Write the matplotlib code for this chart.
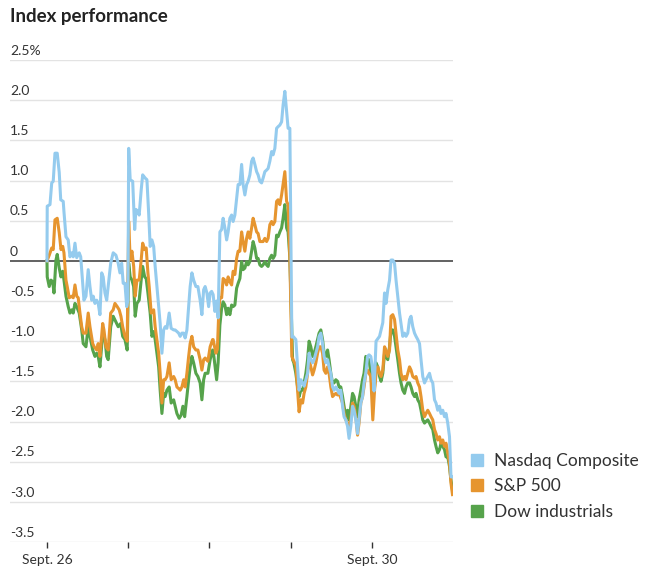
import matplotlib
matplotlib.use("Agg")
import matplotlib.pyplot as plt
from matplotlib.lines import Line2D

plt.rcParams['font.family'] = ['Lato', 'DejaVu Sans']

# trading hours since the Sept. 26 open (6.5 h per session), index change in %
nasdaq_t = [0, 0.02, 0.24, 0.38, 0.50, 0.64, 0.82, 0.98, 1.10, 1.30, 1.36, 1.52, 1.70, 1.84, 1.98,
            2.10, 2.24, 2.38, 2.58, 2.70, 2.86, 2.96, 3.12, 3.30, 3.44, 3.58, 3.70, 3.84, 3.98, 4.10,
            4.24, 4.38, 4.50, 4.64, 4.78, 4.90, 5.10, 5.30, 5.52, 5.70, 5.84, 5.98, 6.10, 6.24, 6.38,
            6.48, 6.54, 6.66, 6.86, 7.02, 7.12, 7.28, 7.38, 7.54, 7.66, 7.86, 8.00, 8.14, 8.26, 8.40,
            8.54, 8.66, 8.80, 8.94, 9.06, 9.20, 9.34, 9.46, 9.60, 9.78, 9.94, 10.14, 10.26, 10.40,
            10.54, 10.66, 10.80, 10.94, 11.06, 11.20, 11.34, 11.46, 11.60, 11.74, 11.92, 12.08,
            12.26, 12.40, 12.54, 12.66, 12.80, 12.94, 13.06, 13.18, 13.30, 13.44, 13.58, 13.70,
            13.84, 13.98, 14.10, 14.24, 14.38, 14.50, 14.64, 14.78, 14.90, 15.04, 15.18, 15.30,
            15.44, 15.58, 15.70, 15.84, 15.98, 16.10, 16.24, 16.38, 16.50, 16.64, 16.78, 16.90,
            17.04, 17.18, 17.30, 17.44, 17.58, 17.70, 17.84, 17.98, 18.10, 18.24, 18.38, 18.50,
            18.64, 18.78, 18.90, 19.04, 19.18, 19.30, 19.44, 19.60, 19.70, 19.92, 20.06, 20.18,
            20.32, 20.46, 20.58, 20.72, 20.86, 20.98, 21.12, 21.26, 21.38, 21.52, 21.66, 21.78,
            21.92, 22.06, 22.18, 22.32, 22.46, 22.58, 22.72, 22.86, 22.98, 23.12, 23.26, 23.38,
            23.52, 23.66, 23.78, 23.92, 24.06, 24.18, 24.32, 24.46, 24.58, 24.72, 24.86, 24.98,
            25.12, 25.26, 25.38, 25.52, 25.66, 25.78, 25.92, 26.04, 26.10, 26.18, 26.34, 26.62,
            26.88, 27.02, 27.14, 27.28, 27.42, 27.54, 27.68, 27.82, 27.94, 28.08, 28.22, 28.34,
            28.48, 28.62, 28.74, 28.88, 29.02, 29.14, 29.28, 29.42, 29.54, 29.68, 29.82, 29.94,
            30.08, 30.22, 30.34, 30.48, 30.62, 30.74, 30.88, 31.02, 31.14, 31.28, 31.42, 31.54,
            31.68, 31.82, 31.94, 32.08, 32.22, 32.34, 32.46]
nasdaq = [0.00, 0.68, 0.70, 0.97, 0.99, 1.34, 1.34, 1.10, 0.76, 0.74, 0.61, 0.30, 0.26, 0.05, 0.10,
          0.05, 0.22, 0.04, 0.10, 0.05, -0.28, -0.49, -0.44, -0.11, -0.32, -0.49, -0.44, -0.53, -0.49, -0.53,
          -0.67, -0.15, -0.20, -0.40, -0.49, -0.32, -0.03, 0.10, 0.07, -0.03, -0.15, -0.03, -0.28, -0.28, -0.57,
          -0.49, 1.40, 1.01, 0.99, 0.39, 0.64, 0.61, 0.57, 0.88, 1.07, 1.03, 1.01, 0.59, 0.18, 0.26,
          0.18, -0.07, -0.32, -0.57, -0.78, -1.15, -0.86, -0.82, -0.84, -0.65, -0.84, -0.86, -0.86, -0.88,
          -0.90, -0.94, -0.90, -0.90, -0.96, -0.86, -0.57, -0.32, -0.15, -0.24, -0.32, -0.32,
          -0.49, -0.67, -0.36, -0.32, -0.40, -0.57, -0.40, -0.38, -0.42, -0.63, -0.50, -0.71,
          0.36, 0.39, 0.53, 0.41, 0.26, 0.36, 0.53, 0.57, 0.49, 0.57, 0.78, 0.95,
          0.95, 1.20, 0.95, 0.82, 0.95, 0.99, 1.07, 1.24, 1.28, 1.20, 1.11, 1.07,
          0.99, 0.97, 1.03, 1.11, 1.13, 1.15, 1.24, 1.36, 1.32, 1.40, 1.65, 1.67,
          1.69, 1.73, 1.94, 2.11, 1.86, 1.65, 1.65, -0.95, -0.94, -0.98, -1.32, -1.61,
          -1.48, -1.52, -1.56, -1.48, -1.40, -1.15, -1.23, -1.27, -1.23, -1.15, -1.07, -0.94,
          -0.90, -1.03, -1.19, -1.27, -1.23, -1.32, -1.40, -1.57, -1.61, -1.57, -1.61, -1.65,
          -1.61, -1.81, -1.94, -1.98, -2.06, -2.21, -2.06, -1.81, -1.86, -1.98, -2.15, -1.98,
          -1.77, -1.69, -1.52, -1.40, -1.19, -1.17, -1.19, -1.32, -1.45, -1.62, -1.00, -0.94,
          -0.77, -0.40, -0.53, -0.36, -0.24, 0.01, 0.01, -0.03, -0.24, -0.44, -0.65, -0.78,
          -0.94, -0.90, -0.94, -0.90, -0.73, -0.69, -0.82, -0.90, -0.94, -0.98, -1.03, -1.23,
          -1.44, -1.52, -1.48, -1.44, -1.40, -1.48, -1.52, -1.73, -1.77, -1.86, -1.81, -1.90,
          -1.86, -1.94, -1.90, -2.02, -2.19, -2.69, -2.69]

sp500_t = [0, 0.18, 0.38, 0.50, 0.64, 0.82, 0.98, 1.12, 1.26, 1.36, 1.52, 1.62, 1.78, 1.98, 2.10,
           2.24, 2.38, 2.50, 2.64, 2.78, 2.90, 3.12, 3.30, 3.44, 3.66, 3.78, 3.98, 4.10, 4.24, 4.46,
           4.56, 4.72, 4.90, 5.10, 5.30, 5.44, 5.62, 5.78, 5.92, 6.06, 6.24, 6.42, 6.54, 6.66, 6.80,
           6.94, 7.06, 7.20, 7.38, 7.54, 7.66, 7.82, 7.94, 8.08, 8.18, 8.34, 8.54, 8.66, 8.80, 8.94,
           9.06, 9.20, 9.34, 9.46, 9.60, 9.78, 9.94, 10.14, 10.26, 10.40, 10.54, 10.66, 10.80,
           10.94, 11.06, 11.20, 11.34, 11.46, 11.60, 11.74, 11.92, 12.08, 12.26, 12.40, 12.54,
           12.66, 12.88, 13.06, 13.26, 13.30, 13.52, 13.64, 13.76, 13.84, 13.98, 14.10, 14.24,
           14.38, 14.50, 14.64, 14.78, 14.90, 15.04, 15.18, 15.30, 15.44, 15.58, 15.70, 15.84,
           15.98, 16.10, 16.24, 16.38, 16.50, 16.64, 16.78, 16.90, 17.04, 17.30, 17.44, 17.58,
           17.70, 17.84, 17.98, 18.10, 18.24, 18.38, 18.50, 18.64, 18.78, 18.90, 19.04, 19.18,
           19.30, 19.44, 19.60, 19.70, 19.92, 20.06, 20.18, 20.32, 20.46, 20.58, 20.72, 20.86,
           20.98, 21.12, 21.26, 21.38, 21.52, 21.66, 21.78, 21.92, 22.06, 22.18, 22.32, 22.46,
           22.58, 22.72, 22.86, 22.98, 23.12, 23.26, 23.38, 23.66, 23.78, 23.92, 24.06, 24.18,
           24.32, 24.46, 24.58, 24.72, 24.86, 24.98, 25.12, 25.26, 25.38, 25.52, 25.66, 25.78,
           25.92, 26.08, 26.22, 26.34, 26.48, 26.62, 26.74, 26.88, 27.02, 27.14, 27.28, 27.42,
           27.54, 27.68, 27.82, 27.94, 28.08, 28.22, 28.34, 28.48, 28.62, 28.74, 28.88, 29.02,
           29.14, 29.28, 29.42, 29.54, 29.68, 29.82, 29.94, 30.08, 30.22, 30.34, 30.48, 30.62,
           30.74, 30.88, 31.02, 31.14, 31.28, 31.42, 31.54, 31.68, 31.82, 31.94, 32.08, 32.22,
           32.34, 32.46]
sp500 = [0.00, 0.07, 0.16, 0.14, 0.51, 0.53, 0.35, 0.14, 0.18, 0.10, -0.24, -0.32, -0.46, -0.44, -0.46,
         -0.30, -0.44, -0.46, -0.65, -0.82, -0.90, -0.90, -0.65, -0.82, -1.03, -1.07, -1.11, -1.03, -1.19, -0.78,
         -0.86, -1.07, -1.11, -0.65, -0.61, -0.53, -0.57, -0.61, -0.69, -0.82, -0.94, -1.00, 0.49, 0.01, 0.12,
         -0.07, -0.44, -0.24, -0.24, 0.01, 0.22, 0.14, 0.16, -0.15, -0.32, -0.65, -0.61, -0.82, -0.98, -1.15,
         -1.40, -1.77, -1.48, -1.48, -1.44, -1.27, -1.48, -1.44, -1.48, -1.57, -1.59, -1.61, -1.57,
         -1.48, -1.57, -1.40, -1.19, -1.03, -0.94, -1.07, -1.11, -1.11, -1.23, -1.36, -1.23,
         -1.21, -1.25, -1.07, -0.98, -0.98, -1.15, -1.10, -0.60, -0.46, -0.46, -0.22, -0.24,
         -0.30, -0.20, -0.26, -0.30, -0.13, -0.17, 0.03, 0.12, 0.12, 0.36, 0.24, 0.12,
         0.28, 0.36, 0.28, 0.41, 0.53, 0.45, 0.36, 0.34, 0.24, 0.24, 0.28, 0.24,
         0.28, 0.45, 0.49, 0.45, 0.49, 0.74, 0.76, 0.70, 0.82, 0.95, 1.11, 0.74,
         0.70, 0.04, -1.19, -1.23, -1.30, -1.61, -1.88, -1.73, -1.77, -1.65, -1.57, -1.40,
         -1.23, -1.32, -1.42, -1.36, -1.27, -1.15, -1.07, -1.07, -1.15, -1.36, -1.40, -1.32,
         -1.40, -1.57, -1.69, -1.67, -1.65, -1.67, -1.65, -1.77, -1.90, -1.98, -2.02, -2.06,
         -1.98, -1.77, -1.81, -1.94, -2.17, -2.02, -1.77, -1.69, -1.57, -1.40, -1.36, -1.40,
         -1.44, -1.98, -1.61, -1.40, -1.32, -1.40, -1.44, -1.36, -1.07, -1.11, -1.19, -1.11,
         -0.69, -0.67, -0.73, -0.90, -1.11, -1.23, -1.40, -1.48, -1.44, -1.48, -1.40, -1.32,
         -1.36, -1.44, -1.46, -1.44, -1.52, -1.57, -1.69, -1.86, -1.94, -1.90, -1.86, -1.90,
         -1.94, -1.98, -2.10, -2.15, -2.23, -2.19, -2.27, -2.23, -2.31, -2.27, -2.39, -2.52,
         -2.77, -2.91]

dow_t = [0, 0.02, 0.18, 0.32, 0.46, 0.56, 0.72, 0.82, 0.98, 1.12, 1.26, 1.36, 1.52, 1.70, 1.84,
         1.98, 2.10, 2.24, 2.38, 2.58, 2.78, 2.90, 3.12, 3.30, 3.44, 3.66, 3.84, 3.98, 4.10, 4.24,
         4.46, 4.64, 4.78, 4.90, 5.10, 5.30, 5.52, 5.70, 5.90, 6.06, 6.24, 6.42, 6.54, 6.66, 6.80,
         6.94, 7.06, 7.20, 7.38, 7.54, 7.66, 7.82, 7.94, 8.08, 8.26, 8.40, 8.54, 8.66, 8.80, 8.94,
         9.06, 9.20, 9.34, 9.46, 9.60, 9.78, 9.94, 10.14, 10.26, 10.40, 10.58, 10.74, 10.88,
         11.02, 11.20, 11.34, 11.46, 11.60, 11.74, 11.92, 12.08, 12.26, 12.40, 12.54, 12.66,
         12.88, 13.06, 13.26, 13.36, 13.58, 13.70, 13.84, 13.98, 14.10, 14.24, 14.38, 14.50,
         14.64, 14.78, 14.90, 15.04, 15.18, 15.30, 15.44, 15.58, 15.70, 15.84, 15.98, 16.10,
         16.24, 16.38, 16.50, 16.64, 16.78, 16.90, 17.04, 17.18, 17.30, 17.44, 17.58, 17.70,
         17.84, 17.98, 18.10, 18.24, 18.38, 18.50, 18.64, 18.78, 18.90, 19.04, 19.18, 19.30,
         19.44, 19.66, 19.76, 19.92, 20.06, 20.18, 20.32, 20.46, 20.58, 20.72, 20.86, 20.98,
         21.12, 21.26, 21.38, 21.52, 21.66, 21.78, 21.92, 22.06, 22.18, 22.32, 22.46, 22.58,
         22.72, 22.86, 22.98, 23.12, 23.26, 23.38, 23.52, 23.66, 23.78, 23.92, 24.06, 24.18,
         24.32, 24.46, 24.58, 24.72, 24.86, 24.98, 25.12, 25.26, 25.38, 25.52, 25.66, 25.78,
         25.92, 26.08, 26.22, 26.34, 26.48, 26.62, 26.74, 26.88, 27.02, 27.14, 27.28, 27.42,
         27.54, 27.68, 27.82, 27.94, 28.08, 28.22, 28.34, 28.48, 28.62, 28.74, 28.88, 29.02,
         29.14, 29.28, 29.42, 29.54, 29.68, 29.82, 29.94, 30.08, 30.22, 30.34, 30.48, 30.62,
         30.74, 30.88, 31.02, 31.14, 31.28, 31.42, 31.54, 31.68, 31.82, 31.94, 32.08, 32.22,
         32.34, 32.46]
dow = [0.00, -0.20, -0.32, -0.24, -0.26, -0.40, 0.01, 0.08, -0.09, -0.20, -0.13, -0.24, -0.44, -0.57, -0.65,
       -0.61, -0.65, -0.53, -0.57, -0.65, -0.86, -1.03, -1.07, -0.82, -0.94, -1.11, -1.19, -1.15, -1.19, -1.32,
       -0.90, -0.98, -1.19, -1.23, -0.82, -0.69, -0.76, -0.82, -0.78, -0.94, -0.98, -1.11, -0.03, -0.20, -0.24,
       -0.32, -0.69, -0.53, -0.49, -0.24, -0.07, -0.20, -0.22, -0.40, -0.65, -0.94, -0.88, -0.98, -1.15, -1.32,
       -1.61, -1.90, -1.65, -1.69, -1.61, -1.57, -1.77, -1.73, -1.81, -1.90, -1.96, -1.92, -1.81,
       -1.94, -1.69, -1.48, -1.32, -1.19, -1.27, -1.40, -1.44, -1.52, -1.73, -1.48, -1.40,
       -1.40, -1.23, -1.11, -1.19, -1.48, -1.27, -0.80, -0.59, -0.51, -0.55, -0.67, -0.59,
       -0.67, -0.55, -0.57, -0.55, -0.34, -0.28, -0.22, -0.01, -0.11, -0.09, -0.01, -0.05,
       -0.01, 0.12, 0.24, 0.16, 0.03, 0.03, -0.05, -0.07, -0.05, -0.01, -0.05, -0.07,
       0.03, 0.07, 0.03, 0.07, 0.32, 0.30, 0.36, 0.41, 0.53, 0.70, 0.41, 0.36,
       0.04, -1.23, -1.27, -1.40, -1.57, -1.69, -1.61, -1.61, -1.52, -1.40, -1.23, -1.00,
       -1.07, -1.19, -1.15, -1.07, -0.98, -0.90, -0.86, -0.98, -1.15, -1.19, -1.11, -1.23,
       -1.40, -1.52, -1.52, -1.48, -1.50, -1.57, -1.57, -1.69, -1.81, -1.94, -1.86, -1.98,
       -1.81, -1.65, -1.69, -1.81, -1.94, -1.73, -1.61, -1.48, -1.40, -1.19, -1.23, -1.23,
       -1.40, -1.73, -1.57, -1.27, -1.32, -1.44, -1.50, -1.40, -1.15, -1.19, -1.23, -1.07,
       -0.86, -0.86, -0.94, -1.07, -1.23, -1.40, -1.52, -1.61, -1.65, -1.57, -1.52, -1.52,
       -1.57, -1.65, -1.69, -1.65, -1.73, -1.77, -1.86, -1.98, -2.02, -2.00, -1.98, -2.02,
       -2.06, -2.10, -2.23, -2.31, -2.39, -2.35, -2.27, -2.31, -2.35, -2.44, -2.44, -2.56,
       -2.73, -2.85]

series_names = ['Nasdaq Composite', 'S&P 500', 'Dow industrials']
series_colors = ['#94cbee', '#e6952f', '#56a34b']

day_ticks = [0, 6.5, 13, 19.5, 26]
day_labels = ['Sept. 26', '', '', '', 'Sept. 30']
y_ticks = [2.5, 2.0, 1.5, 1.0, 0.5, 0, -0.5, -1.0, -1.5, -2.0, -2.5, -3.0, -3.5]
y_labels = ['2.5%', '2.0', '1.5', '1.0', '0.5', '0', '-0.5', '-1.0', '-1.5', '-2.0', '-2.5', '-3.0', '-3.5']

fig = plt.figure(figsize=(6.5, 5.76), dpi=100)
ax = fig.add_axes([10 / 650, 1 - 542 / 576, 443 / 650, 482 / 576])

ax.plot(dow_t, dow, color=series_colors[2], lw=2.2, solid_joinstyle='round', zorder=3)
ax.plot(sp500_t, sp500, color=series_colors[1], lw=2.2, solid_joinstyle='round', zorder=4)
ax.plot(nasdaq_t, nasdaq, color=series_colors[0], lw=2.2, solid_joinstyle='round', zorder=5)

ax.set_xlim(-37 / 12.5, 32.5)
ax.set_ylim(-3.5, 2.5)

for v in y_ticks:
    if v == 0:
        ax.axhline(v, color='#555555', lw=1.3, zorder=2)
    else:
        ax.axhline(v, color='#e3e3e3', lw=1.0, zorder=1)
for v, lab in zip(y_ticks, y_labels):
    ax.text(0, v + 0.04, lab, transform=ax.get_yaxis_transform(), ha='left', va='bottom',
            fontsize=10, color='#333333')

for s in ax.spines.values():
    s.set_visible(False)
ax.set_yticks([])
ax.set_xticks(day_ticks)
ax.set_xticklabels(day_labels, fontsize=10, color='#333333')
ax.tick_params(axis='x', length=4, width=1, color='#333333', pad=5)

fig.text(10 / 650, 1 - 22 / 576, 'Index performance', fontsize=13.5, fontweight='bold',
         color='#222222', ha='left', va='baseline')

handles = [Line2D([], [], ls='', marker='s', markersize=9, color=c) for c in series_colors]
fig.legend(handles, series_names, loc='upper left', bbox_to_anchor=(463 / 650, 1 - 446 / 576),
           frameon=False, fontsize=12.5, handlelength=0.8, handletextpad=0.6, labelspacing=0.55,
           borderaxespad=0, labelcolor='#333333')

fig.savefig('out.png', dpi=100)
